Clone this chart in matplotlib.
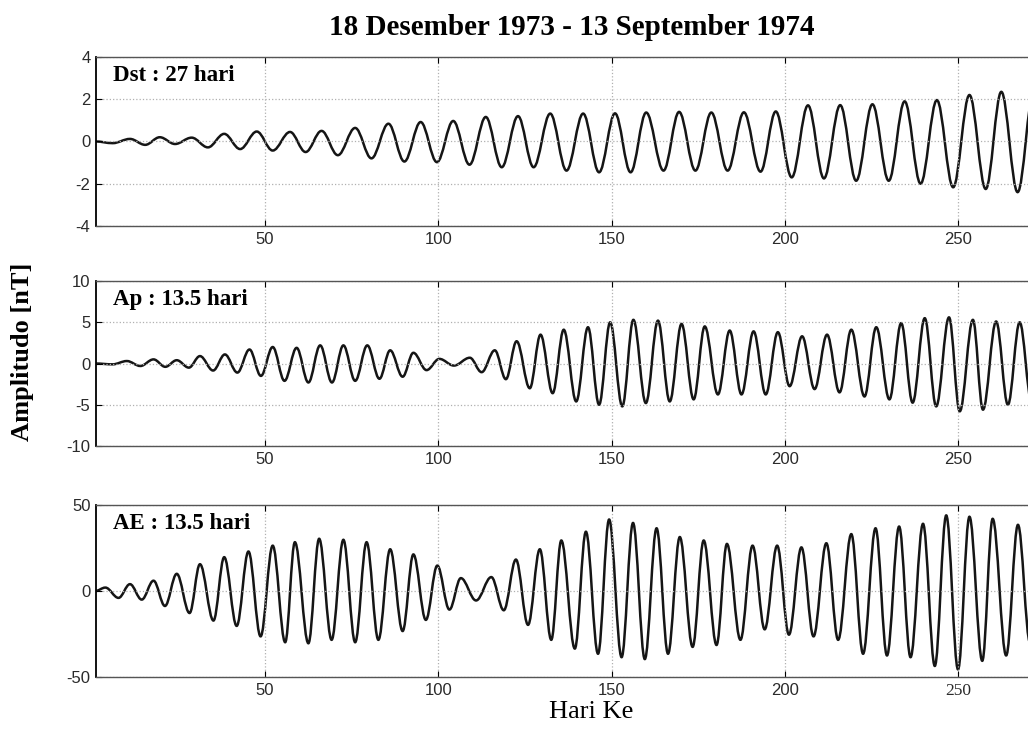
import matplotlib
matplotlib.use("Agg")
import matplotlib.pyplot as plt
from matplotlib.path import Path
from matplotlib.patches import PathPatch

plt.rcParams["axes.unicode_minus"] = False

TITLE = "18 Desember 1973 - 13 September 1974"
YLABEL = "Amplitudo [nT]"
XLABEL = "Hari Ke"

# extrema (day, value), alternating peak/trough
dst_days = [1, 6.0, 11.0, 15.4, 19.6, 24.0, 28.8, 33.5, 38.2, 42.8, 47.6, 52.2,
            57.2, 61.7, 66.3, 71.0, 76.0, 80.7, 85.6, 90.2, 94.9, 99.6, 104.3,
            109.0, 113.7, 118.3, 123.0, 127.5, 132.3, 137.0, 141.8, 146.4, 151.0,
            155.5, 160.0, 165.0, 169.5, 174.2, 178.8, 183.5, 188.2, 193.0, 197.4,
            202.0, 206.7, 211.3, 216.0, 220.6, 225.3, 230.0, 234.6, 239.2, 243.9,
            248.6, 253.3, 258.0, 262.5, 267.2, 271.9]
dst_vals = [0.0, -0.08, 0.12, -0.16, 0.2, -0.12, 0.18, -0.28, 0.36, -0.36, 0.47, -0.43,
            0.45, -0.5, 0.5, -0.65, 0.64, -0.8, 0.84, -0.95, 0.92, -0.98, 0.97,
            -1.1, 1.16, -1.22, 1.2, -1.22, 1.32, -1.38, 1.32, -1.46, 1.33,
            -1.46, 1.37, -1.38, 1.4, -1.38, 1.37, -1.38, 1.38, -1.43, 1.42,
            -1.7, 1.71, -1.75, 1.72, -1.86, 1.76, -1.86, 1.9, -2.0, 1.96,
            -2.17, 2.2, -2.25, 2.35, -2.4, 2.4]

ap_days = [1, 6.0, 10.1, 14.0, 17.8, 21.2, 24.5, 28.0, 31.2, 35.0, 38.4, 42.0, 45.5,
           48.8, 52.2, 55.6, 59.1, 62.5, 65.9, 69.3, 72.6, 76.0, 79.5, 83.0, 86.1,
           89.7, 92.8, 96.6, 100.3, 104.5, 109.1, 112.5, 116.3, 119.5, 122.6, 126.4,
           129.5, 133.0, 136.2, 139.8, 143.2, 146.4, 149.6, 153.1, 156.3, 159.9,
           163.4, 166.8, 170.2, 173.7, 176.9, 180.7, 184.1, 187.5, 191.0, 194.5,
           198.0, 201.4, 205.0, 208.6, 212.2, 215.8, 219.2, 223.0, 226.4, 230.2,
           233.6, 236.9, 240.4, 243.7, 247.4, 250.5, 254.3, 257.2, 261.0, 264.4,
           267.8, 271.2]
ap_vals = [0.0, -0.1, 0.3, -0.3, 0.5, -0.4, 0.4, -0.5, 0.9, -0.85, 1.1, -1.1, 1.7,
           -1.5, 2.0, -2.1, 1.9, -2.3, 2.2, -2.3, 2.2, -2.1, 2.2, -1.85, 1.6,
           -1.6, 1.3, -0.8, 0.56, -0.25, 0.7, -1.05, 1.6, -1.9, 2.7, -3.0,
           3.5, -3.6, 4.1, -4.6, 4.4, -5.0, 5.0, -5.2, 5.3, -4.8,
           5.2, -4.6, 4.8, -4.35, 4.5, -3.75, 4.0, -3.75, 3.9, -3.75,
           3.8, -2.75, 3.3, -3.1, 3.5, -3.5, 4.1, -4.0, 4.4, -4.35,
           4.9, -4.75, 5.5, -5.2, 5.6, -5.8, 5.3, -5.6, 5.1, -5.0,
           5.0, -4.5]

ae_days = [1, 3.9, 7.7, 11.0, 14.4, 17.8, 21.1, 24.5, 28.2, 31.2, 35.1, 38.2, 41.8,
           45.2, 48.7, 52.2, 55.8, 58.6, 62.5, 65.6, 69.2, 72.6, 76.0, 79.3, 82.7,
           86.1, 89.7, 92.8, 96.4, 99.7, 103.2, 106.5, 110.9, 115.3, 118.9, 122.4,
           125.9, 129.3, 132.6, 135.5, 139.4, 142.6, 146.1, 149.3, 152.9, 156.2,
           159.6, 163.0, 166.3, 169.7, 173.4, 176.6, 180.3, 183.3, 187.2, 190.7,
           194.2, 197.8, 201.2, 204.8, 208.3, 212.0, 215.4, 219.2, 222.6, 226.2,
           229.5, 233.0, 236.3, 239.9, 243.3, 246.6, 250.0, 253.3, 257.0, 260.0,
           263.9, 267.3, 270.8]
ae_vals = [0.0, 2, -4, 4, -5, 6, -8.7, 10, -12.8, 15.6, -17.2, 19.7, -20.3,
           23, -26.4, 26.4, -29.8, 28.4, -30.4, 30.4, -28.4, 29.8, -29.8, 28.4, -28.4,
           24.3, -23.3, 21.3, -16.8, 14.8, -10.8, 7.5, -5.5, 8.1, -11.2, 18.3,
           -19.7, 24.3, -28.4, 29.4, -33.5, 34.5, -36.5, 41.6, -38.5, 39.6,
           -39.6, 36.5, -36.5, 31.4, -32.5, 29.4, -31.4, 27.4, -28.4, 26.4,
           -22.3, 26.4, -25.4, 25.4, -26.4, 27.8, -28.4, 33.1, -36.5, 36.5,
           -37.5, 37.5, -38.5, 39.1, -43.6, 44, -45.6, 43.2, -40.6, 42,
           -37.5, 38.5, -30]

panel_labels = ["Dst : 27 hari", "Ap : 13.5 hari", "AE : 13.5 hari"]
panel_ylims = [(-4, 4), (-10, 10), (-50, 50)]
panel_yticks = [[-4, -2, 0, 2, 4], [-10, -5, 0, 5, 10], [-50, 0, 50]]
x_ticks = [50, 100, 150, 200, 250]

SERIF = "Liberation Serif"
SANS = "Liberation Sans"


def wave_patch(days, vals):
    # cubic bezier between successive extrema, flat tangent at each extremum
    verts = [(days[0], vals[0])]
    codes = [Path.MOVETO]
    for i in range(len(days) - 1):
        d = days[i + 1] - days[i]
        verts += [(days[i] + 0.364 * d, vals[i]),
                  (days[i + 1] - 0.364 * d, vals[i + 1]),
                  (days[i + 1], vals[i + 1])]
        codes += [Path.CURVE4] * 3
    return PathPatch(Path(verts, codes), fill=False, edgecolor="#151515",
                     lw=1.8, capstyle="round", joinstyle="round")


fig = plt.figure(figsize=(10.28, 7.32), dpi=100)
fig.patch.set_facecolor("white")

boxes = [[0.0934, 0.6913, 0.9066, 0.2309],
         [0.0934, 0.3907, 0.9066, 0.2254],
         [0.0934, 0.0751, 0.9066, 0.2350]]
series = [(dst_days, dst_vals), (ap_days, ap_vals), (ae_days, ae_vals)]
label_y = [0.89, 0.885, 0.895]

for k in range(3):
    ax = fig.add_axes(boxes[k])
    ax.add_patch(wave_patch(*series[k]))
    ax.set_xlim(1.2, 270.2)
    ax.set_ylim(*panel_ylims[k])
    ax.set_xticks(x_ticks)
    ax.set_yticks(panel_yticks[k])
    ax.grid(True, linestyle=":", color="#b0b0b0", lw=0.9)
    ax.tick_params(direction="in", length=4, top=True, right=False,
                   labelsize=12, labelcolor="#2a2a2a", pad=4)
    for lab in ax.get_xticklabels() + ax.get_yticklabels():
        lab.set_family(SANS)
    if k == 2:
        last = ax.get_xticklabels()[-1]
        last.set_family(SERIF)
        last.set_fontsize(12.5)
    ax.spines["right"].set_visible(False)
    ax.spines["left"].set_color("black")
    ax.spines["left"].set_linewidth(1.3)
    for s in ("top", "bottom"):
        ax.spines[s].set_color("#555555")
        ax.spines[s].set_linewidth(1.0)
    ax.text(0.018, label_y[k], panel_labels[k], transform=ax.transAxes,
            fontsize=16.5, fontweight="bold", family=SERIF, va="center", ha="left")

fig.text(0.556, 0.963, TITLE, ha="center", va="center",
         fontsize=21, fontweight="bold", family=SERIF)
fig.text(0.022, 0.519, YLABEL, ha="center", va="center", rotation=90,
         fontsize=19, fontweight="bold", family=SERIF)
fig.text(0.575, 0.027, XLABEL, ha="center", va="center",
         fontsize=19, family=SERIF)

fig.savefig("out.png", dpi=100)
